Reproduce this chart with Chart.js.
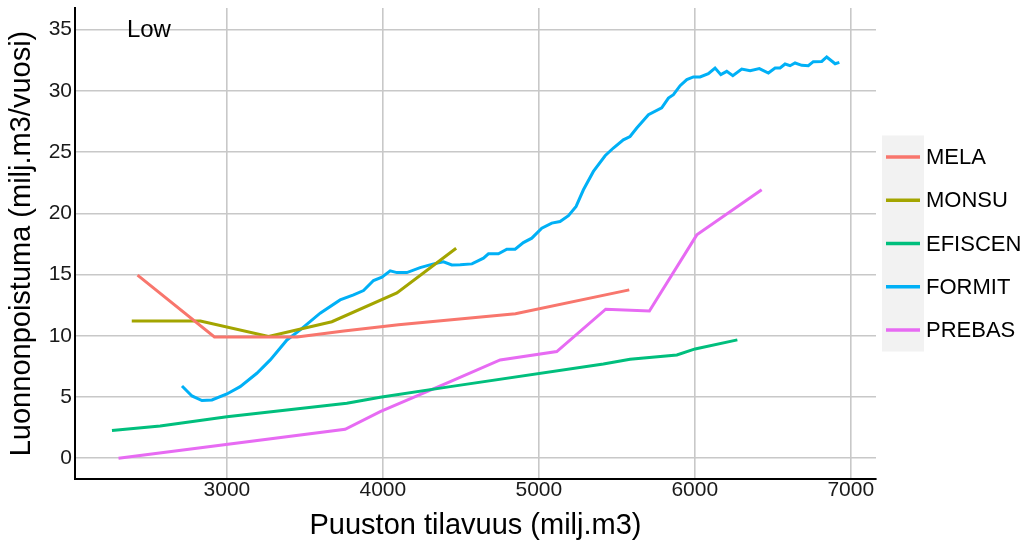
<!DOCTYPE html>
<html>
<head>
<meta charset="utf-8">
<script src="https://cdn.jsdelivr.net/npm/chart.js@4"></script>
<style>
  html, body { margin: 0; padding: 0; background: #fff; overflow: hidden; }
  #wrap { width: 1026px; height: 543px; }
</style>
</head>
<body>
<div id="wrap"><canvas id="myChart"></canvas></div>
<script>
const seriesNames = ['MELA', 'MONSU', 'EFISCEN', 'FORMIT', 'PREBAS'];
const seriesColors = ['#F8766D', '#A3A500', '#00BF7D', '#00B0F6', '#E76BF3'];

const melaX = [2427, 2920, 3450, 3750, 4100, 4850, 5580];
const melaY = [14.95, 9.9, 9.9, 10.4, 10.9, 11.8, 13.75];

const monsuX = [2390, 2830, 3267, 3673, 4090, 4470];
const monsuY = [11.2, 11.2, 9.95, 11.15, 13.5, 17.15];

const efiscenX = [2263, 2572, 3000, 3769, 3983, 4432, 5414, 5585, 5885, 6002, 6273];
const efiscenY = [2.26, 2.64, 3.4, 4.49, 4.98, 5.85, 7.7, 8.09, 8.44, 8.93, 9.67];

const formitX = [2712, 2776, 2840, 2904, 3000, 3085, 3192, 3278, 3385, 3470, 3598, 3726, 3812, 3876,
  3940, 3994, 4047, 4090, 4154, 4239, 4325, 4389, 4442, 4496, 4571, 4645, 4677, 4741, 4795, 4848,
  4901, 4955, 5019, 5083, 5136, 5190, 5239, 5286, 5350, 5425, 5478, 5542, 5585, 5628, 5703, 5788,
  5831, 5863, 5906, 5949, 5991, 6034, 6087, 6130, 6167, 6205, 6244, 6301, 6355, 6414, 6472, 6515,
  6547, 6579, 6611, 6643, 6686, 6728, 6760, 6814, 6846, 6900, 6927];
const formitY = [5.9, 5.09, 4.71, 4.76, 5.25, 5.85, 6.94, 8.03, 9.66, 10.48, 11.85, 12.93, 13.34, 13.69,
  14.51, 14.79, 15.3, 15.16, 15.16, 15.57, 15.87, 16.04, 15.79, 15.8, 15.87, 16.34, 16.69, 16.69, 17.07, 17.07,
  17.61, 17.97, 18.79, 19.2, 19.33, 19.8, 20.56, 21.92, 23.42, 24.7, 25.33, 26.0, 26.27, 26.96, 28.05, 28.6,
  29.41, 29.68, 30.42, 30.91, 31.13, 31.13, 31.4, 31.86, 31.32, 31.59, 31.23, 31.78, 31.64, 31.81, 31.45, 31.86,
  31.86, 32.19, 32.05, 32.27, 32.08, 32.05, 32.38, 32.4, 32.76, 32.21, 32.32];

const prebasX = [2305, 3758, 3983, 4432, 4752, 5115, 5429, 5709, 6013, 6429];
const prebasY = [0, 2.37, 3.81, 6.26, 8.03, 8.71, 12.17, 12.03, 18.24, 21.92];

const xTicks = [3000, 4000, 5000, 6000, 7000];
const yTicks = [0, 5, 10, 15, 20, 25, 30, 35];
const panelLabel = 'Low';
const panelLabelPos = [2500, 35];

const seriesX = [melaX, monsuX, efiscenX, formitX, prebasX];
const seriesY = [melaY, monsuY, efiscenY, formitY, prebasY];

const datasets = seriesNames.map((name, i) => ({
  label: name,
  data: seriesX[i].map((x, j) => ({ x: x, y: seriesY[i][j] })),
  borderColor: seriesColors[i],
  backgroundColor: seriesColors[i],
  borderWidth: 3,
  pointRadius: 0,
  tension: 0,
  showLine: true
}));

// ggplot-like legend on the right, with grey key column
const sideLegend = {
  id: 'sideLegend',
  afterDraw(chart) {
    const ctx = chart.ctx;
    const area = chart.chartArea;
    const step = 43.2;
    const mid = (area.top + area.bottom) / 2;
    const n = chart.data.datasets.length;
    const y0 = mid - step * (n - 1) / 2;
    const x0 = area.right + 6;
    ctx.save();
    ctx.fillStyle = '#F2F2F2';
    ctx.fillRect(x0, y0 - step / 2, 42, step * n);
    ctx.font = '22px "Liberation Sans", Arial, sans-serif';
    ctx.textBaseline = 'middle';
    chart.data.datasets.forEach((ds, i) => {
      const y = y0 + i * step;
      ctx.strokeStyle = ds.borderColor;
      ctx.lineWidth = 3.5;
      ctx.beginPath();
      ctx.moveTo(x0 + 4, y);
      ctx.lineTo(x0 + 38, y);
      ctx.stroke();
      ctx.fillStyle = '#000';
      ctx.fillText(ds.label, x0 + 44, y + 1);
    });
    ctx.restore();
  }
};

const panelText = {
  id: 'panelText',
  afterDatasetsDraw(chart) {
    const ctx = chart.ctx;
    const x = chart.scales.x.getPixelForValue(panelLabelPos[0]);
    const y = chart.scales.y.getPixelForValue(panelLabelPos[1]);
    ctx.save();
    ctx.font = '24px "Liberation Sans", Arial, sans-serif';
    ctx.fillStyle = '#000';
    ctx.textAlign = 'center';
    ctx.textBaseline = 'middle';
    ctx.fillText(panelLabel, x, y + 1);
    ctx.restore();
  }
};

const fontFamily = '"Liberation Sans", Arial, sans-serif';
const ctx = document.getElementById('myChart').getContext('2d');

const config = {
  type: 'scatter',
  data: { datasets: datasets },
  plugins: [sideLegend, panelText],
  options: {
    responsive: true,
    maintainAspectRatio: false,
    animation: false,
    layout: { padding: { left: 0, right: 150, top: 8, bottom: 0 } },
    plugins: {
      legend: { display: false },
      tooltip: { enabled: false }
    },
    scales: {
      x: {
        type: 'linear',
        min: 2026,
        max: 7162,
        afterBuildTicks: function (scale) { scale.ticks = xTicks.map(v => ({ value: v })); },
        afterFit: function (scale) {
          scale.height = 64;
          scale.paddingLeft = 0;
          scale.paddingRight = 0;
        },
        ticks: {
          padding: 0,
          color: '#1a1a1a',
          font: { family: fontFamily, size: 21, lineHeight: 1.1 },
          maxRotation: 0,
          autoSkip: false,
          callback: function (value) { return String(value); }
        },
        grid: { color: '#C8C8C8', lineWidth: 1.6, drawTicks: false },
        border: { color: '#000', width: 2 },
        title: {
          display: true,
          text: 'Puuston tilavuus (milj.m3)',
          color: '#000',
          padding: 0,
          font: { family: fontFamily, size: 29, lineHeight: 1.2 }
        }
      },
      y: {
        type: 'linear',
        min: -1.69,
        max: 36.76,
        afterBuildTicks: function (scale) { scale.ticks = yTicks.map(v => ({ value: v })); },
        afterFit: function (scale) {
          scale.width = 75;
          scale.paddingTop = 0;
          scale.paddingBottom = 0;
        },
        ticks: {
          padding: 3,
          color: '#1a1a1a',
          autoSkip: false,
          font: { family: fontFamily, size: 21 }
        },
        grid: { color: '#C8C8C8', lineWidth: 1.6, drawTicks: false },
        border: { color: '#000', width: 2 },
        title: {
          display: true,
          text: 'Luonnonpoistuma (milj.m3/vuosi)',
          color: '#000',
          padding: { top: 5, bottom: 0 },
          font: { family: fontFamily, size: 29, lineHeight: 1.2 }
        }
      }
    }
  }
};

const myChart = new Chart(ctx, config);
</script>
</body>
</html>
